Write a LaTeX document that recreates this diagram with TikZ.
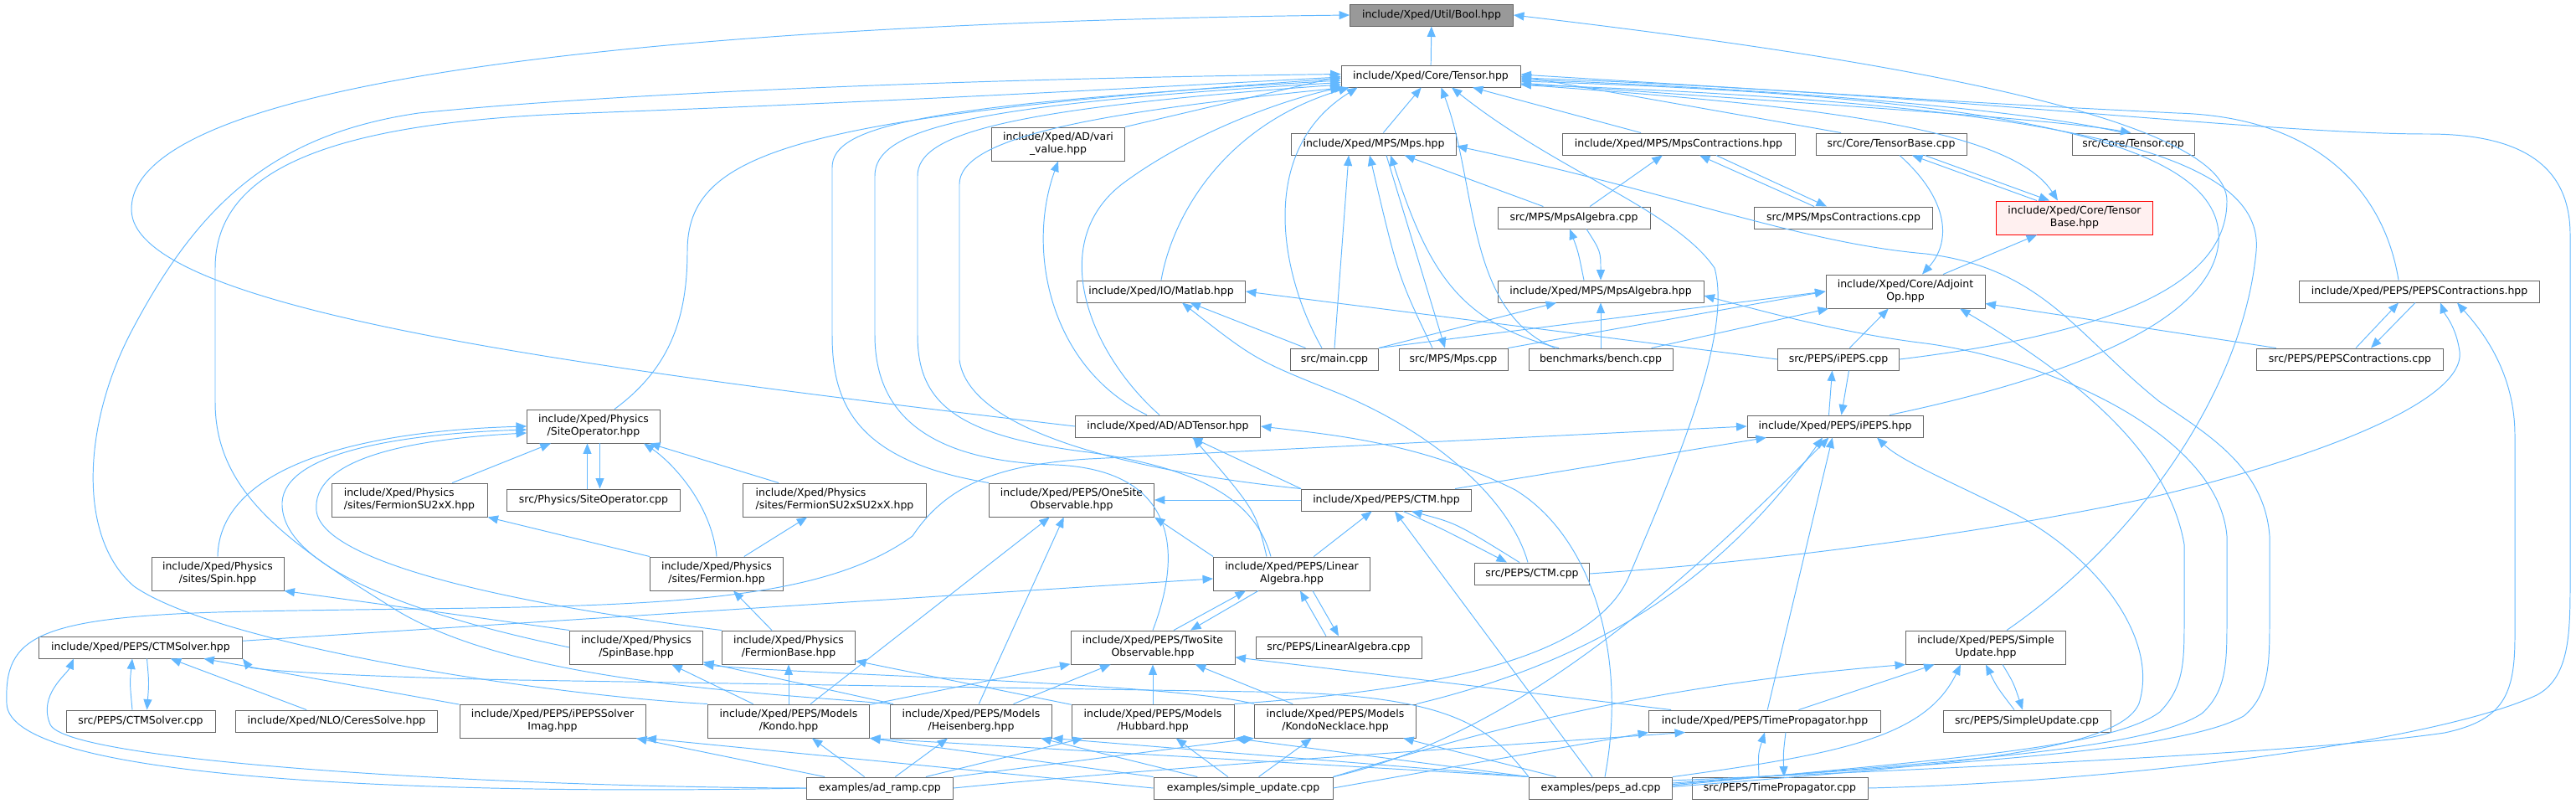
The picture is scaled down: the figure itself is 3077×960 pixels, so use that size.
\documentclass[tikz,border=0pt]{standalone}
\usepackage{fontspec}
\setmainfont{DejaVu Sans}
\usetikzlibrary{arrows.meta}
\definecolor{edgeblue}{HTML}{63B8FF}
\definecolor{boxgray}{HTML}{666666}
\definecolor{curgray}{HTML}{999999}
\definecolor{truncfill}{HTML}{FFF0F0}
\begin{document}
\begin{tikzpicture}[
		x=0.02cm, y=-0.02cm,
		>={Triangle[length=0.25cm,width=0.2cm]},
		file/.style={draw=boxgray, fill=white, line width=0.55pt, inner sep=0pt, minimum height=0.52cm, font=\fontsize{7.1}{8.5}\selectfont},
		file2/.style={file, align=center, minimum height=0.8cm},
		file2l/.style={file, align=left, minimum height=0.8cm},
		current/.style={file, fill=curgray},
		trunc/.style={file2, draw=red, fill=truncfill},
		dep/.style={->, draw=edgeblue, line width=0.55pt}
	]
		\useasboundingbox (0,0) rectangle (3077,960);
		\node[current, minimum width=3.90cm] (bool) at (1710,18) {include/Xped/Util/Bool.hpp};
		\node[file, minimum width=4.28cm] (tensor) at (1709,91) {include/Xped/Core/Tensor.hpp};
		\node[file2, minimum width=3.18cm] (vari) at (1264,172) {include/Xped/AD/vari\\\_value.hpp};
		\node[file, minimum width=3.94cm] (mps) at (1641,172) {include/Xped/MPS/Mps.hpp};
		\node[file, minimum width=5.56cm] (mpscontr) at (2005,172) {include/Xped/MPS/MpsContractions.hpp};
		\node[file, minimum width=3.60cm] (tbasecpp) at (2259,172) {src/Core/TensorBase.cpp};
		\node[file, minimum width=2.92cm] (tensorcpp) at (2548,172) {src/Core/Tensor.cpp};
		\node[trunc, minimum width=3.74cm] (tbase) at (2478,260) {include/Xped/Core/Tensor\\Base.hpp};
		\node[file, minimum width=3.64cm] (mpsalgcpp) at (1880,260) {src/MPS/MpsAlgebra.cpp};
		\node[file, minimum width=4.26cm] (mpscontrcpp) at (2202,260) {src/MPS/MpsContractions.cpp};
		\node[file, minimum width=4.92cm] (mpsalg) at (1912,348) {include/Xped/MPS/MpsAlgebra.hpp};
		\node[file2, minimum width=3.80cm] (adjoint) at (2276,348) {include/Xped/Core/Adjoint\\Op.hpp};
		\node[file, minimum width=4.02cm] (matlab) at (1387,348) {include/Xped/IO/Matlab.hpp};
		\node[file, minimum width=5.74cm] (pepscontr) at (2890,348) {include/Xped/PEPS/PEPSContractions.hpp};
		\node[file, minimum width=2.10cm] (main) at (1594,429) {src/main.cpp};
		\node[file, minimum width=2.60cm] (mpscpp) at (1736,429) {src/MPS/Mps.cpp};
		\node[file, minimum width=3.44cm] (bench) at (1912,429) {benchmarks/bench.cpp};
		\node[file, minimum width=2.90cm] (ipepscpp) at (2196,429) {src/PEPS/iPEPS.cpp};
		\node[file, minimum width=4.46cm] (pepscontrcpp) at (2807,429) {src/PEPS/PEPSContractions.cpp};
		\node[file2, minimum width=3.18cm] (siteop) at (709,509) {include/Xped/Physics\\/SiteOperator.hpp};
		\node[file, minimum width=4.42cm] (adtensor) at (1395,509) {include/Xped/AD/ADTensor.hpp};
		\node[file, minimum width=4.20cm] (ipeps) at (2192,509) {include/Xped/PEPS/iPEPS.hpp};
		\node[file2l, minimum width=3.72cm] (fsutwox) at (489,597) {include/Xped/Physics\\/sites/FermionSU2xX.hpp};
		\node[file, minimum width=4.14cm] (siteopcpp) at (709,597) {src/Physics/SiteOperator.cpp};
		\node[file2l, minimum width=4.38cm] (fsutwosutwox) at (997,597) {include/Xped/Physics\\/sites/FermionSU2xSU2xX.hpp};
		\node[file2, minimum width=3.94cm] (onesite) at (1280,597) {include/Xped/PEPS/OneSite\\Observable.hpp};
		\node[file, minimum width=4.06cm] (ctm) at (1656,597) {include/Xped/PEPS/CTM.hpp};
		\node[file2, minimum width=3.16cm] (spin) at (260,685) {include/Xped/Physics\\/sites/Spin.hpp};
		\node[file2, minimum width=3.18cm] (fermion) at (856,685) {include/Xped/Physics\\/sites/Fermion.hpp};
		\node[file2, minimum width=3.74cm] (linalg) at (1543,685) {include/Xped/PEPS/Linear\\Algebra.hpp};
		\node[file, minimum width=2.74cm] (ctmcpp) at (1830,685) {src/PEPS/CTM.cpp};
		\node[file, minimum width=4.86cm] (ctmsolver) at (168,773) {include/Xped/PEPS/CTMSolver.hpp};
		\node[file2, minimum width=3.18cm] (spinbase) at (760,773) {include/Xped/Physics\\/SpinBase.hpp};
		\node[file2, minimum width=3.18cm] (fermionbase) at (942,773) {include/Xped/Physics\\/FermionBase.hpp};
		\node[file2, minimum width=3.92cm] (twosite) at (1377,773) {include/Xped/PEPS/TwoSite\\Observable.hpp};
		\node[file, minimum width=3.96cm] (linalgcpp) at (1599,773) {src/PEPS/LinearAlgebra.cpp};
		\node[file2, minimum width=3.82cm] (simpleupd) at (2372,773) {include/Xped/PEPS/Simple\\Update.hpp};
		\node[file, minimum width=3.56cm] (ctmsolvercpp) at (168,861) {src/PEPS/CTMSolver.cpp};
		\node[file, minimum width=4.82cm] (ceres) at (402,861) {include/Xped/NLO/CeresSolve.hpp};
		\node[file2, minimum width=4.44cm] (ipepssolver) at (660,861) {include/Xped/PEPS/iPEPSSolver\\Imag.hpp};
		\node[file2, minimum width=3.86cm] (kondo) at (942,861) {include/Xped/PEPS/Models\\/Kondo.hpp};
		\node[file2, minimum width=3.86cm] (heisenberg) at (1160,861) {include/Xped/PEPS/Models\\/Heisenberg.hpp};
		\node[file2, minimum width=3.88cm] (hubbard) at (1377,861) {include/Xped/PEPS/Models\\/Hubbard.hpp};
		\node[file2, minimum width=3.86cm] (kondoneck) at (1595,861) {include/Xped/PEPS/Models\\/KondoNecklace.hpp};
		\node[file, minimum width=5.54cm] (timeprop) at (2108,861) {include/Xped/PEPS/TimePropagator.hpp};
		\node[file, minimum width=4.00cm] (simpleupdcpp) at (2421,861) {src/PEPS/SimpleUpdate.cpp};
		\node[file, minimum width=3.50cm] (adramp) at (1051,941) {examples/ad\_ramp.cpp};
		\node[file, minimum width=4.28cm] (simpleupdex) at (1485,941) {examples/simple\_update.cpp};
		\node[file, minimum width=3.42cm] (pepsad) at (1912,941) {examples/peps\_ad.cpp};
		\node[file, minimum width=4.20cm] (timepropcpp) at (2126,941) {src/PEPS/TimePropagator.cpp};
		\foreach \s/\t in {tensor/bool, vari.north east/tensor.west, mps/tensor, mpsalgcpp/mps,
				mpsalgcpp/mpscontr, main/matlab, main/mpsalg, bench/mpsalg, main.north east/adjoint.west,
				mpscpp.north east/adjoint.west, bench/adjoint, ipepscpp/adjoint, pepscontrcpp/adjoint,
				ipepscpp.west/matlab.east, fsutwox/siteop, fsutwosutwox/siteop, fermion/fsutwosutwox,
				fermion.north west/fsutwox.south east, fermionbase/fermion, spinbase.north west/spin.south east,
				kondo/spinbase, kondo/fermionbase, heisenberg/spinbase, hubbard/fermionbase, kondo/twosite,
				heisenberg/twosite, hubbard/twosite, kondoneck/twosite, kondo/onesite, heisenberg/onesite,
				ctm/ipeps, ctm.north west/adtensor, linalg/ctm, linalg.north west/onesite.south east, ctm/onesite,
				timeprop/twosite, timeprop/simpleupd, timeprop/ipeps, simpleupdex.east/timeprop.south west,
				adramp/kondo, adramp/heisenberg, adramp/hubbard, adramp.north east/kondoneck.south west,
				simpleupdex.north west/kondo.south east, simpleupdex/heisenberg, simpleupdex/hubbard,
				simpleupdex/kondoneck, pepsad.north west/kondo.south east, pepsad.north west/heisenberg.south east,
				pepsad.north west/hubbard.south east, pepsad/kondoneck, pepsad/ctm, ctmsolver/linalg,
				ceres/ctmsolver, ipepssolver/ctmsolver, adramp/ipepssolver, simpleupdex.west/ipepssolver.south east} {
			\draw[dep] (\s) -- (\t);
		}
		\draw[dep] (adtensor.west) .. controls (700,440) and (157,370) .. (157,250) .. controls (157,70) and (1000,25) .. (bool.west);
		\draw[dep] (ipepscpp.east) .. controls (2550,395) and (2660,330) .. (2660,240) .. controls (2660,140) and (2250,70) .. (bool.east);
		\draw[dep] ([xshift=-1.2cm]tbasecpp.north) -- (tensor.east);
		\draw[dep] ([xshift=-0.9cm]mpscontr.north) -- ([xshift=1cm]tensor.south);
		\draw[dep] ([xshift=-0.25cm]tensorcpp.north) .. controls (2420,130) and (2100,105) .. ([yshift=-0.08cm]tensor.east);
		\draw[dep] ([yshift=-0.16cm]tensor.east) .. controls (2100,120) and (2440,140) .. ([xshift=-0.05cm]tensorcpp.north);
		\draw[dep] ([yshift=-0.2cm]tensor.east) .. controls (2150,125) and (2400,150) .. ([xshift=-0.4cm]tbase.north);
		\draw[dep] ([xshift=-0.5cm]adtensor.north) .. controls (1255,440) and (1225,300) .. (vari.south);
		\draw[dep] ([xshift=-0.2cm]adtensor.north) .. controls (1300,420) and (1250,290) .. (1340,220) .. controls (1420,160) and (1530,120) .. (tensor.south west);
		\draw[dep] (matlab.north) .. controls (1400,260) and (1460,150) .. ([xshift=0.2cm]tensor.south west);
		\draw[dep] ([xshift=0.5cm]siteop.north) .. controls (800,440) and (821,380) .. (821,300) .. controls (821,180) and (950,140) .. ([yshift=-0.05cm]tensor.west);
		\draw[dep] (onesite.north west) .. controls (1020,550) and (994,480) .. (994,400) -- (994,200) .. controls (994,150) and (1100,125) .. ([yshift=-0.1cm]tensor.west);
		\draw[dep] (twosite.north) .. controls (1420,640) and (1390,560) .. (1260,555) .. controls (1090,550) and (1045,480) .. (1045,400) -- (1045,210) .. controls (1045,155) and (1150,125) .. ([yshift=-0.15cm]tensor.west);
		\draw[dep] ([xshift=-0.5cm]linalg.north) .. controls (1500,600) and (1440,560) .. (1300,540) .. controls (1140,520) and (1096,480) .. (1096,400) -- (1096,210) .. controls (1096,160) and (1200,130) .. ([yshift=-0.2cm]tensor.west);
		\draw[dep] (ctm.north west) .. controls (1420,570) and (1160,530) .. (1146,430) -- (1146,220) .. controls (1146,165) and (1300,135) .. ([xshift=0.1cm]tensor.south west);
		\draw[dep] ([xshift=-0.3cm]main.north) .. controls (1530,330) and (1500,180) .. ([xshift=0.4cm]tensor.south west);
		\draw[dep] ([xshift=-1.1cm]bench.north) .. controls (1750,370) and (1765,220) .. ([xshift=0.25cm]tensor.south);
		\draw[dep] ([xshift=1.3cm]ipeps.north) .. controls (2450,455) and (2640,390) .. (2650,290) .. controls (2660,170) and (2400,115) .. ([yshift=-0.12cm]tensor.east);
		\draw[dep] (timepropcpp.east) .. controls (2500,935) and (2900,890) .. (3030,830) .. controls (3068,810) and (3070,760) .. (3070,700) -- (3070,280) .. controls (3070,190) and (3000,160) .. (2900,160) .. controls (2700,160) and (2300,110) .. ([yshift=-0.04cm]tensor.east);
		\draw[dep] ([xshift=-0.5cm]pepscontr.north) .. controls (2850,240) and (2780,140) .. (2600,135) .. controls (2400,125) .. ([yshift=0.04cm]tensor.east);
		\draw[dep] ([xshift=0.5cm]simpleupd.north) .. controls (2560,640) and (2680,460) .. (2695,300) .. controls (2705,190) and (2500,125) .. ([yshift=-0.2cm]tensor.east);
		\draw[dep] (kondo.north west) .. controls (650,830) and (260,770) .. (160,700) .. controls (90,640) and (100,500) .. (160,390) .. controls (240,240) and (330,160) .. (500,135) .. controls (800,105) and (1300,92) .. ([yshift=0.05cm]tensor.west);
		\draw[dep] (heisenberg.north west) .. controls (900,826) and (600,815) .. (460,720) .. controls (330,640) and (257,580) .. (257,480) -- (257,320) .. controls (257,200) and (400,145) .. (700,135) .. controls (1100,120) and (1450,100) .. ([yshift=-0.02cm]tensor.west);
		\draw[dep] (hubbard.north east) .. controls (1700,825) and (1900,790) .. (1945,690) .. controls (2000,560) and (2070,400) .. (2048,320) .. controls (2000,250) and (1860,205) .. ([xshift=0.5cm]tensor.south);
		\draw[dep] (kondoneck.north east) .. controls (1900,790) and (2050,700) .. ([xshift=-0.3cm]ipeps.south);
		\draw[dep] (simpleupdex.north east) .. controls (1800,880) and (1990,720) .. ([xshift=-0.15cm]ipeps.south);
		\draw[dep] (adramp.west) .. controls (600,940) and (80,910) .. (60,865) .. controls (45,830) and (80,805) .. ([xshift=-1.6cm]ctmsolver.south);
		\draw[dep] (adramp.west) .. controls (500,950) and (10,930) .. (8,840) .. controls (5,760) and (40,735) .. (300,730) .. controls (700,722) and (960,735) .. (1090,640) .. controls (1130,580) and (1190,555) .. (1300,548) -- (ipeps.west);
		\draw[dep] (pepsad.north west) .. controls (1780,870) and (1740,828) .. (1500,826) -- (620,812) .. controls (420,808) and (300,800) .. (ctmsolver.south east);
		\draw[dep] (kondoneck.north west) .. controls (1400,815) and (950,805) .. (spinbase.south east);
		\draw[dep] ([xshift=0.4cm]ctm.south) .. controls (1720,630) .. ([xshift=-0.6cm]ctmcpp.north);
		\draw[dep] ([xshift=-0.3cm]ctmcpp.north) .. controls (1740,625) .. ([xshift=0.6cm]ctm.south);
		\draw[dep] ([xshift=-0.1cm]ctmcpp.north) .. controls (1805,600) and (1720,520) .. (1600,470) .. controls (1500,430) .. ([xshift=0.5cm]matlab.south);
		\draw[dep] (ctmcpp.east) .. controls (2150,668) and (2400,630) .. (2560,596) .. controls (2760,550) and (2945,480) .. (2938,420) .. controls (2934,390) and (2920,375) .. ([xshift=0.5cm]pepscontr.south);
		\draw[dep] ([yshift=0.18cm]pepsad.east) .. controls (2300,918) and (2750,900) .. (2920,875) .. controls (2990,860) and (3004,830) .. (3004,760) -- (3004,520) .. controls (3004,440) and (2960,390) .. ([xshift=0.9cm]pepscontr.south);
		\draw[dep] ([yshift=0.12cm]pepsad.east) .. controls (2300,912) and (2600,900) .. (2680,855) .. controls (2711,830) and (2711,790) .. (2711,740) -- (2711,640) .. controls (2705,560) and (2640,520) .. (2580,480) .. controls (2480,400) and (2440,320) .. (2300,303) .. controls (2150,290) and (2000,230) .. ([yshift=-0.05cm]mps.east);
		\draw[dep] ([yshift=0.06cm]pepsad.east) .. controls (2300,908) and (2520,895) .. (2580,850) .. controls (2609,820) and (2609,790) .. (2609,740) -- (2609,650) .. controls (2590,540) and (2480,450) .. ([xshift=1.3cm]adjoint.south);
		\draw[dep] ([yshift=0.09cm]pepsad.east) .. controls (2300,910) and (2560,898) .. (2630,852) .. controls (2660,825) and (2660,790) .. (2660,740) -- (2660,640) .. controls (2650,520) and (2450,430) .. (2300,410) .. controls (2200,398) and (2100,370) .. ([yshift=-0.1cm]mpsalg.east);
		\draw[dep] ([yshift=0.03cm]pepsad.east) .. controls (2300,915) and (2530,900) .. (2555,840) .. controls (2580,760) and (2500,660) .. (2400,610) .. controls (2330,575) and (2270,550) .. ([xshift=1.0cm]ipeps.south);
		\draw[dep] (pepsad.north east) .. controls (2200,900) and (2300,880) .. ([xshift=-0.6cm]simpleupd.south);
		\draw[dep] ([xshift=0.1cm]pepsad.north) .. controls (1945,780) and (1900,640) .. (1810,585) .. controls (1700,530) and (1600,520) .. (adtensor.east);
		\draw[dep] ([xshift=-0.5cm]timepropcpp.north) .. controls (2100,900) .. (timeprop.south);
		\draw[dep] ([xshift=0.5cm]timeprop.south) .. controls (2130,900) .. ([xshift=0.1cm]timepropcpp.north);
		\draw[dep] ([xshift=-0.3cm]simpleupdcpp.north) .. controls (2385,820) .. (simpleupd.south);
		\draw[dep] ([xshift=0.4cm]simpleupd.south) .. controls (2405,815) .. ([xshift=-0.1cm]simpleupdcpp.north);
		\draw[dep] (simpleupdex.north east) .. controls (1750,880) and (1950,820) .. (simpleupd.south west);
		\draw[dep] (adramp.east) .. controls (1400,915) and (1800,890) .. ([xshift=-1.9cm]timeprop.south);
		\draw[dep] (spin.north) .. controls (262,560) and (420,515) .. (siteop.west);
		\draw[dep] (spinbase.west) .. controls (450,725) and (335,665) .. (337,600) .. controls (340,540) and (480,518) .. ([yshift=-0.08cm]siteop.west);
		\draw[dep] (fermionbase.north west) .. controls (600,720) and (385,670) .. (378,610) .. controls (372,550) and (480,525) .. ([yshift=-0.16cm]siteop.west);
		\draw[dep] (fermion.north) .. controls (850,600) and (800,550) .. ([xshift=1.2cm]siteop.south);
		\draw[dep] ([xshift=-0.15cm]siteopcpp.north) -- ([xshift=-0.15cm]siteop.south);
		\draw[dep] ([xshift=0.15cm]siteop.south) -- ([xshift=0.15cm]siteopcpp.north);
		\draw[dep] ([xshift=-0.2cm]ctmsolvercpp.north) .. controls (155,815) .. ([xshift=-0.2cm]ctmsolver.south);
		\draw[dep] ([xshift=0.15cm]ctmsolver.south) .. controls (178,815) .. ([xshift=0.15cm]ctmsolvercpp.north);
		\draw[dep] ([xshift=0.5cm]twosite.north) -- ([xshift=-1.1cm]linalg.south);
		\draw[dep] ([xshift=-0.8cm]linalg.south) -- ([xshift=0.9cm]twosite.north);
		\draw[dep] ([xshift=-0.3cm]linalgcpp.north) -- ([xshift=0.2cm]linalg.south);
		\draw[dep] ([xshift=0.5cm]linalg.south) -- (linalgcpp.north);
		\draw[dep] ([xshift=-0.6cm]linalg.north) .. controls (1500,610) .. ([xshift=0.6cm]adtensor.south);
		\draw[dep] ([xshift=-0.9cm]tbase.north) -- ([xshift=0.5cm]tbasecpp.south);
		\draw[dep] ([xshift=0.8cm]tbasecpp.south) -- ([xshift=-0.6cm]tbase.north);
		\draw[dep] ([xshift=0.2cm]tbasecpp.south) .. controls (2330,240) and (2330,290) .. ([xshift=0.4cm]adjoint.north);
		\draw[dep] ([xshift=0.9cm]adjoint.north) -- ([xshift=-0.9cm]tbase.south);
		\draw[dep] ([xshift=-0.4cm]mpsalg.north) .. controls (1885,300) .. ([xshift=-0.1cm]mpsalgcpp.south);
		\draw[dep] ([xshift=0.3cm]mpsalgcpp.south) .. controls (1912,300) .. (mpsalg.north);
		\draw[dep] ([xshift=-0.7cm]mpscontrcpp.north) -- ([xshift=0.5cm]mpscontr.south);
		\draw[dep] ([xshift=0.9cm]mpscontr.south) -- ([xshift=-0.4cm]mpscontrcpp.north);
		\draw[dep] ([xshift=-0.5cm]mpscpp.north) .. controls (1670,330) .. ([xshift=-0.1cm]mps.south);
		\draw[dep] ([xshift=0.3cm]mps.south) .. controls (1700,330) .. ([xshift=-0.2cm]mpscpp.north);
		\draw[dep] (main.north) -- ([xshift=-0.6cm]mps.south);
		\draw[dep] ([xshift=-1.0cm]bench.north) .. controls (1740,385) and (1705,320) .. ([xshift=0.4cm]mps.south);
		\draw[dep] ([xshift=-0.15cm]ipeps.north) -- ([xshift=-0.15cm]ipepscpp.south);
		\draw[dep] ([xshift=0.25cm]ipepscpp.south) -- ([xshift=0.15cm]ipeps.north);
		\draw[dep] ([xshift=0.14cm]pepscontrcpp.north) -- ([xshift=-0.5cm]pepscontr.south);
		\draw[dep] ([xshift=-0.1cm]pepscontr.south) -- ([xshift=0.5cm]pepscontrcpp.north);
	\end{tikzpicture}
\end{document}
